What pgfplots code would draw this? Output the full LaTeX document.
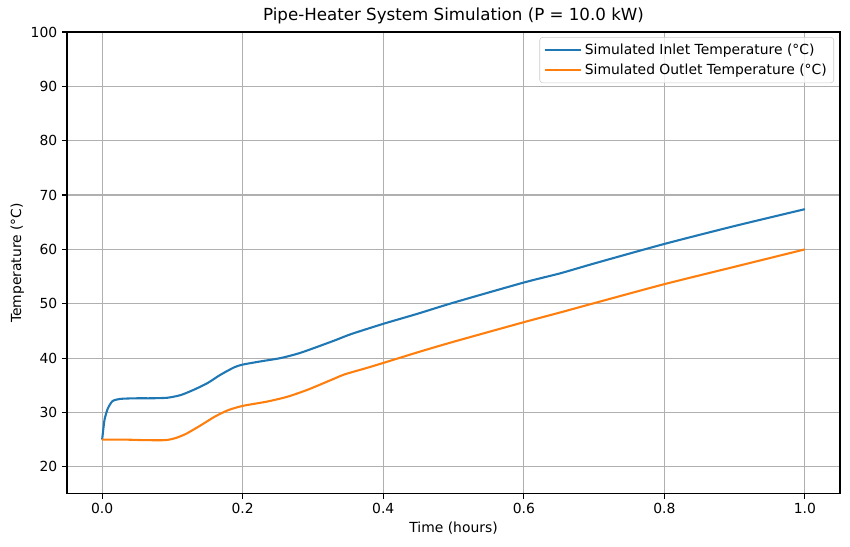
\documentclass[border=0pt]{standalone}
\usepackage{pgfplots}
\pgfplotsset{compat=1.18}
\usepackage{fontspec}
\setmainfont{DejaVu Sans}
\definecolor{c0}{HTML}{1F77B4}
\definecolor{c1}{HTML}{FF7F0E}
\definecolor{gridc}{HTML}{B0B0B0}
\begin{document}
\begin{tikzpicture}
\begin{axis}[
  scale only axis, clip=false,
  width=556.6pt, height=332.6pt,
  xmin=-0.05, xmax=1.05, ymin=15, ymax=100,
  xtick={0,0.2,0.4,0.6,0.8,1.0},
  ytick={20,30,40,50,60,70,80,90,100},
  xticklabel style={/pgf/number format/.cd, fixed, fixed zerofill, precision=1},
  /pgf/number format/assume math mode=true,
  tick label style={font=\fontsize{10}{12}\selectfont},
  tick align=outside, major tick length=3.5pt,
  tick style={black, line width=0.8pt},
  xtick pos=bottom, ytick pos=left,
  axis line style={line width=0.8pt},
  grid=major,
  major grid style={gridc, line width=0.8pt},
  title={Pipe-Heater System Simulation (P = 10.0 kW)},
  title style={font=\fontsize{12}{14}\selectfont, yshift=-3.5pt},
  xlabel={Time (hours)},
  ylabel={Temperature (°C)},
  xlabel style={yshift=1.5pt},
  ylabel style={yshift=-2pt},
  label style={font=\fontsize{10}{12}\selectfont},
  legend cell align=left,
  legend style={at={(0.9922,0.989)}, anchor=north east,
    font=\fontsize{10}{12}\selectfont,
    draw=black!20, rounded corners=2pt, fill=white, fill opacity=0.8, text opacity=1,
    inner xsep=3pt, inner ysep=2.5pt, row sep=1.5pt},
  legend image code/.code={\draw[#1, line width=1.5pt] (0pt,0pt) -- (20pt,0pt); \path (0pt,0pt) -- (26pt,0pt);},
]
\addplot[c0, line width=1.5pt, smooth, tension=0.4] coordinates {
(0,25.0) (0.0033,28.6) (0.008,30.7) (0.015,32.1) (0.027,32.5) (0.05,32.6) (0.07,32.6) (0.093,32.7)
(0.112,33.2) (0.131,34.2) (0.15,35.4) (0.168,36.9) (0.188,38.3) (0.2,38.8) (0.226,39.4)
(0.254,40.0) (0.283,41.0) (0.33,43.2) (0.354,44.4) (0.4,46.3) (0.45,48.2) (0.5,50.2)
(0.6,53.9) (0.652,55.6) (0.7,57.4) (0.8,61.0) (0.9,64.3) (1.0,67.4)
};
\addlegendentry{Simulated Inlet Temperature (°C)}
\addplot[c1, line width=1.5pt, smooth, tension=0.4] coordinates {
(0,25.0) (0.03,25.0) (0.06,24.9) (0.09,24.9) (0.105,25.3) (0.12,26.1) (0.14,27.6) (0.16,29.2)
(0.179,30.4) (0.2,31.2) (0.235,32.0) (0.264,32.9) (0.293,34.2) (0.33,36.2) (0.345,37.0)
(0.377,38.2) (0.4,39.1) (0.45,41.1) (0.5,43.0) (0.6,46.6) (0.652,48.4) (0.7,50.1)
(0.8,53.6) (0.9,56.8) (1.0,60.0)
};
\addlegendentry{Simulated Outlet Temperature (°C)}
\path (rel axis cs:-0.0867,-0.1147) rectangle (rel axis cs:1.0129,1.0693);
\end{axis}
\end{tikzpicture}
\end{document}
